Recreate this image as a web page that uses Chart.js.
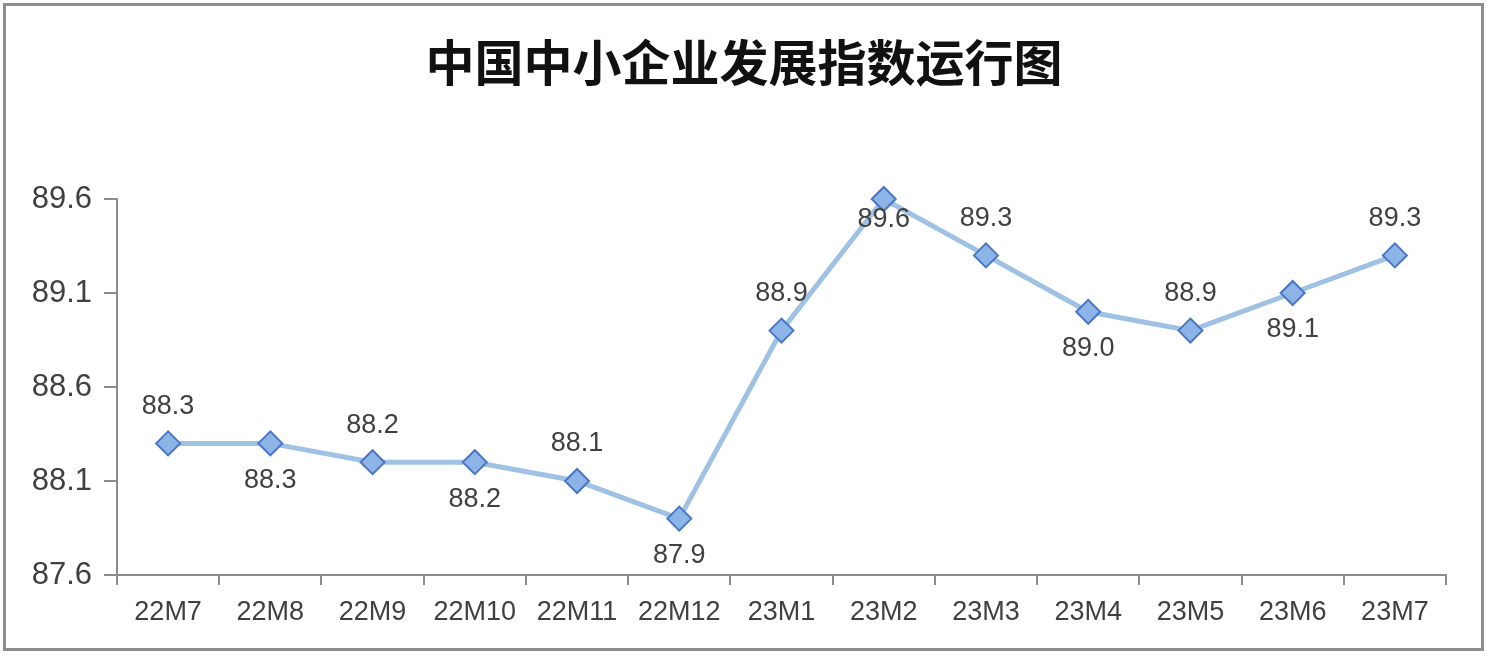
<!DOCTYPE html>
<html>
<head>
<meta charset="utf-8">
<script src="https://cdn.jsdelivr.net/npm/chart.js@4/dist/chart.umd.min.js"></script>
<style>
body{margin:0;background:#fff}
#wrap{position:relative;width:1488px;height:660px}
#frame{position:absolute;left:3px;top:3px;width:1475px;height:642px;border:3px solid #8e8e8e;pointer-events:none}
#title{position:absolute;left:0;top:35px;width:1488px;text-align:center;font:bold 49px "Noto Sans CJK SC";line-height:49px;color:#111}
</style>
</head>
<body>
<div id="wrap">
<canvas id="chart"></canvas>
<div id="title">中国中小企业发展指数运行图</div>
<div id="frame"></div>
</div>
<script>
const months = ["22M7","22M8","22M9","22M10","22M11","22M12","23M1","23M2","23M3","23M4","23M5","23M6","23M7"]
const indexValues = [88.3,88.3,88.2,88.2,88.1,87.9,88.9,89.6,89.3,89.0,88.9,89.1,89.3]
const yTicks = [87.6,88.1,88.6,89.1,89.6]

// where each value label sits: -1 above the marker, 1 below
const labelSide = [-1,1,-1,1,-1,1,-1,1,-1,1,-1,1,-1]

const valueLabels = {
id:"valueLabels",
afterDatasetsDraw(chart){
let ctx = chart.ctx
let meta = chart.getDatasetMeta(0)
ctx.save()
ctx.font = "27px 'Liberation Sans'"
ctx.fillStyle = "#404040"
ctx.textAlign = "center"
ctx.textBaseline = "middle"
meta.data.forEach((pt,i)=>{
let off = labelSide[i] * 37
if(i==7) off = 21
ctx.fillText(indexValues[i].toFixed(1), pt.x, pt.y + off)
})
ctx.restore()
}
}

new Chart(document.getElementById("chart"),{
type:"line",
data:{
labels:months,
datasets:[{
data:indexValues,
borderColor:"#9fc2e4",
borderWidth:5,
pointStyle:"rectRot",
pointRadius:12,
pointBackgroundColor:"#8db4e6",
pointBorderColor:"#4a76c4",
pointBorderWidth:2,
tension:0,
clip:false
}]
},
options:{
responsive:true,
maintainAspectRatio:false,
animation:false,
layout:{padding:{top:199,right:42,bottom:0,left:0}},
plugins:{legend:{display:false},tooltip:{enabled:false}},
scales:{
x:{
offset:true,
grid:{display:true,drawOnChartArea:false,offset:true,color:"#8c8c8c",lineWidth:2,tickLength:10},
border:{color:"#8c8c8c",width:2},
ticks:{font:{size:27,family:"'Liberation Sans'"},color:"#404040",padding:11,maxRotation:0,autoSkip:false},
afterFit(s){s.height=85}
},
y:{
min:87.6,
max:89.6,
afterBuildTicks(s){s.ticks = yTicks.map(v=>({value:v}))},
grid:{display:true,drawOnChartArea:false,color:"#8c8c8c",lineWidth:2,tickLength:13},
border:{color:"#8c8c8c",width:2},
ticks:{font:{size:31,family:"'Liberation Sans'"},color:"#404040",padding:12,callback:v=>v.toFixed(1)},
afterFit(s){s.width=117}
}
}
},
plugins:[valueLabels]
})
</script>
</body>
</html>
